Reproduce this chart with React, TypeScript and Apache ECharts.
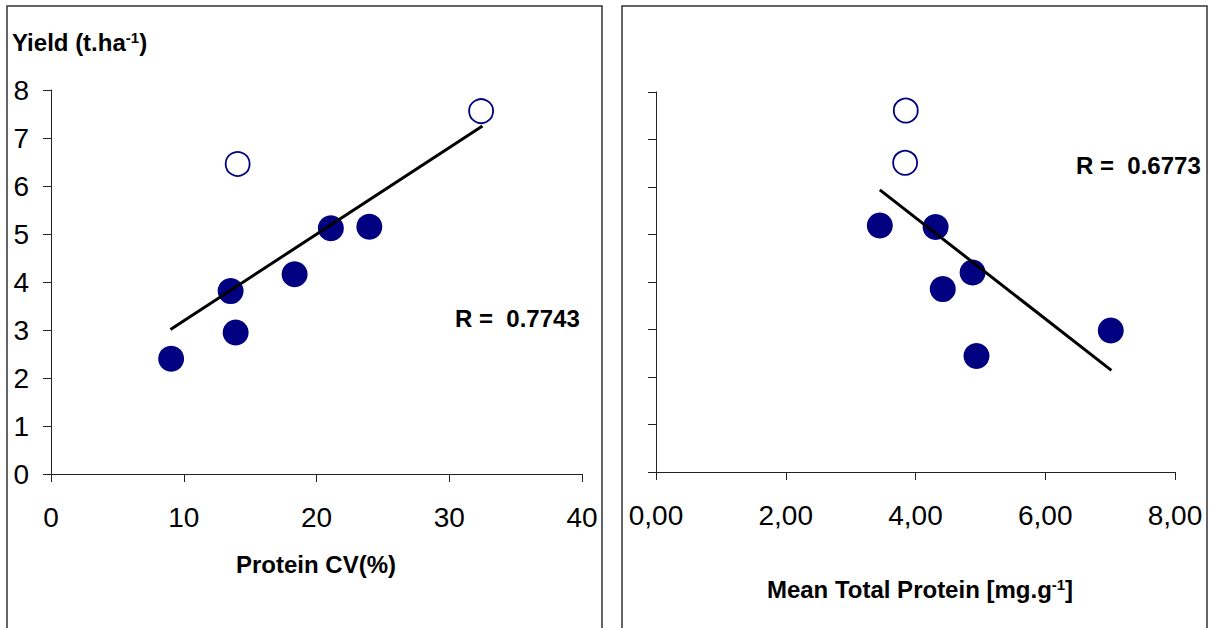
import React, { useEffect, useRef } from "react";
import * as echarts from "echarts";

// Left panel: Yield vs Protein CV(%)
const cvFilled: number[][] = [
  [9.05, 2.4],
  [13.53, 3.81],
  [13.91, 2.95],
  [18.35, 4.16],
  [21.08, 5.12],
  [23.98, 5.15],
];
const cvOpen: number[][] = [
  [14.06, 6.46],
  [32.4, 7.56],
];
const cvTrend: number[][] = [
  [9.0, 3.01],
  [32.5, 7.25],
];

// Right panel: Yield vs Mean Total Protein
const mtpFilled: number[][] = [
  [3.45, 5.19],
  [4.31, 5.16],
  [4.88, 4.2],
  [4.42, 3.85],
  [4.94, 2.44],
  [7.01, 2.98],
];
const mtpOpen: number[][] = [
  [3.85, 7.61],
  [3.84, 6.51],
];
const mtpTrend: number[][] = [
  [3.45, 5.94],
  [7.02, 2.14],
];

const rLeft = "R =  0.7743";
const rRight = "R =  0.6773";

const FONT = "'Liberation Sans', Arial, sans-serif";
const NAVY = "#000080";
const AXIS = "#222222";

export default function App() {
  const ref = useRef<HTMLDivElement>(null);

  useEffect(() => {
    if (!ref.current) return;
    const chart = echarts.init(ref.current, undefined, { renderer: "svg" });

    const bold = {
      fontFamily: FONT,
      fontWeight: "bold",
      fontSize: 24,
      fill: "#000",
      color: "#000",
    };
    const sup = {
      fontFamily: FONT,
      fontWeight: "bold",
      fontSize: 15,
      fill: "#000",
      color: "#000",
      verticalAlign: "top",
    };

    const axisCommon = {
      type: "value",
      axisLine: { show: true, onZero: false, lineStyle: { color: AXIS, width: 1 } },
      axisTick: { show: true, inside: false, length: 8, lineStyle: { color: AXIS, width: 1 } },
      splitLine: { show: false },
    };
    const labelStyle = {
      fontFamily: FONT,
      fontSize: 28,
      color: "#000",
    };

    chart.setOption({
      animation: false,
      backgroundColor: "#ffffff",
      grid: [
        { left: 51, top: 90, width: 531, height: 384 },
        { left: 656, top: 92, width: 519, height: 380 },
      ],
      xAxis: [
        {
          ...axisCommon,
          gridIndex: 0,
          min: 0,
          max: 40,
          interval: 10,
          axisLabel: { ...labelStyle, margin: 29 },
        },
        {
          ...axisCommon,
          gridIndex: 1,
          min: 0,
          max: 8,
          interval: 2,
          axisLabel: {
            ...labelStyle,
            margin: 29,
            formatter: (v: number) => v.toFixed(2).replace(".", ","),
          },
        },
      ],
      yAxis: [
        {
          ...axisCommon,
          gridIndex: 0,
          min: 0,
          max: 8,
          interval: 1,
          axisLabel: { ...labelStyle, margin: 22 },
        },
        {
          ...axisCommon,
          gridIndex: 1,
          min: 0,
          max: 8,
          interval: 1,
          axisLabel: { show: false },
        },
      ],
      series: [
        {
          type: "scatter",
          xAxisIndex: 0,
          yAxisIndex: 0,
          data: cvFilled,
          symbol: "circle",
          symbolSize: 26,
          itemStyle: { color: NAVY, opacity: 1 },
        },
        {
          type: "scatter",
          xAxisIndex: 0,
          yAxisIndex: 0,
          data: cvOpen,
          symbol: "circle",
          symbolSize: 24,
          itemStyle: { color: "#ffffff", borderColor: NAVY, borderWidth: 1.8, opacity: 1 },
        },
        {
          type: "line",
          xAxisIndex: 0,
          yAxisIndex: 0,
          data: cvTrend,
          showSymbol: false,
          symbol: "none",
          lineStyle: { color: "#000", width: 3 },
        },
        {
          type: "scatter",
          xAxisIndex: 1,
          yAxisIndex: 1,
          data: mtpFilled,
          symbol: "circle",
          symbolSize: 26,
          itemStyle: { color: NAVY, opacity: 1 },
        },
        {
          type: "scatter",
          xAxisIndex: 1,
          yAxisIndex: 1,
          data: mtpOpen,
          symbol: "circle",
          symbolSize: 24,
          itemStyle: { color: "#ffffff", borderColor: NAVY, borderWidth: 1.8, opacity: 1 },
        },
        {
          type: "line",
          xAxisIndex: 1,
          yAxisIndex: 1,
          data: mtpTrend,
          showSymbol: false,
          symbol: "none",
          lineStyle: { color: "#000", width: 3 },
        },
      ],
      graphic: [
        {
          type: "rect",
          shape: { x: 7, y: 6, width: 595, height: 650 },
          style: { fill: "none", stroke: "#333", lineWidth: 1.5 },
          silent: true,
        },
        {
          type: "rect",
          shape: { x: 622, y: 6, width: 585, height: 650 },
          style: { fill: "none", stroke: "#333", lineWidth: 1.5 },
          silent: true,
        },
        {
          type: "text",
          x: 12,
          y: 42,
          style: {
            text: "{b|Yield (t.ha}{s|-1}{b|)}",
            rich: { b: bold, s: sup },
            textAlign: "left",
            textVerticalAlign: "middle",
          },
        },
        {
          type: "text",
          x: 316,
          y: 564,
          style: {
            text: "Protein CV(%)",
            font: `bold 24px ${FONT}`,
            fill: "#000",
            textAlign: "center",
            textVerticalAlign: "middle",
          },
        },
        {
          type: "text",
          x: 920,
          y: 589,
          style: {
            text: "{b|Mean Total Protein [mg.g}{s|-1}{b|]}",
            rich: { b: bold, s: sup },
            textAlign: "center",
            textVerticalAlign: "middle",
          },
        },
        {
          type: "text",
          x: 455,
          y: 318,
          style: {
            text: rLeft,
            font: `bold 24px ${FONT}`,
            fill: "#000",
            textAlign: "left",
            textVerticalAlign: "middle",
          },
        },
        {
          type: "text",
          x: 1076,
          y: 165,
          style: {
            text: rRight,
            font: `bold 24px ${FONT}`,
            fill: "#000",
            textAlign: "left",
            textVerticalAlign: "middle",
          },
        },
      ],
    });

    return () => chart.dispose();
  }, []);

  return (
    <div
      ref={ref}
      style={{ position: "absolute", left: 0, top: 0, width: 1211, height: 628 }}
    />
  );
}
